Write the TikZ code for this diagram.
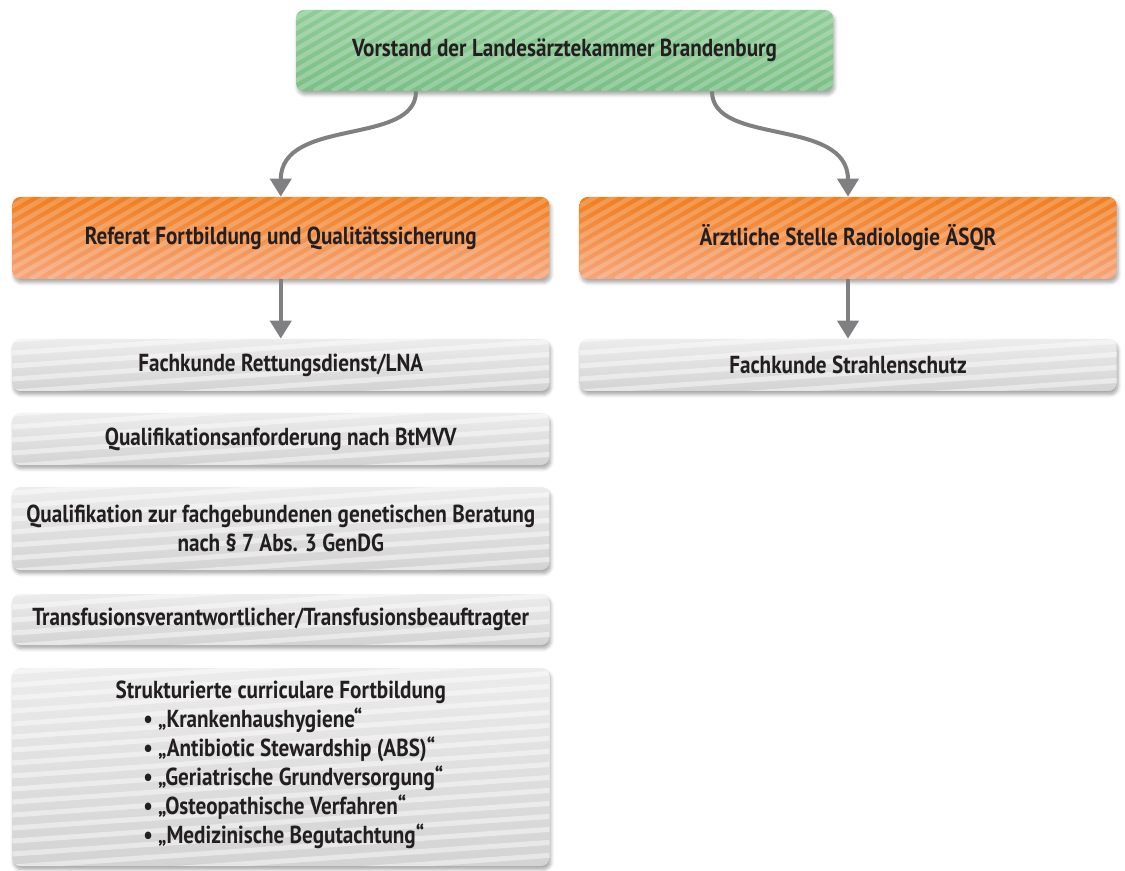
\documentclass[tikz,border=0pt]{standalone}
\usepackage{fontspec}
\setmainfont{PT Sans}[FakeStretch=0.86]
\usetikzlibrary{arrows.meta,shadows.blur}

\definecolor{textdark}{HTML}{231F20}
\definecolor{arrowgrey}{HTML}{808082}
\definecolor{greentop}{HTML}{8FCC97}
\definecolor{greenbot}{HTML}{7CBF87}
\definecolor{orangetop}{HTML}{F07F1F}
\definecolor{orangebot}{HTML}{F6A57A}
\definecolor{greytop}{HTML}{ECECEC}
\definecolor{greybot}{HTML}{D3D3D3}

\begin{document}
\begin{tikzpicture}[
    box/.style={rectangle, rounded corners=0.16cm, minimum width=10.74cm, inner sep=0pt, align=center,
      text=textdark, font=\bfseries\fontsize{14}{16.5}\selectfont,
      blur shadow={shadow xshift=0.03cm, shadow yshift=-0.07cm, shadow blur steps=6, shadow opacity=35}},
    slantstripes/.style={path picture={
      \foreach \k in {-9,...,32}
        \draw[#1, line width=0.09cm] ([xshift=\k*0.36cm]path picture bounding box.south west) -- ++(30:3.6cm);}},
    flatstripes/.style={path picture={
      \foreach \k in {-4,...,18}
        \draw[white, opacity=0.45, line width=0.1cm] ([yshift=\k*0.26cm-0.8cm]path picture bounding box.south west) -- ++(4:11.5cm);}},
    boardbox/.style={box, minimum height=1.62cm, top color=greentop, bottom color=greenbot, slantstripes={white, opacity=0.22}},
    unitbox/.style={box, minimum height=1.64cm, top color=orangetop, bottom color=orangebot, slantstripes={white, opacity=0.2}},
    taskbox/.style={box, top color=greytop, bottom color=greybot, flatstripes},
    conn/.style={draw=arrowgrey, line width=0.08cm, -{Triangle[width=0.42cm,length=0.36cm]}}
  ]
  \useasboundingbox (0,0) rectangle (22.5,-17.42);

  \node[boardbox] (LAEKB) at (11.29,-1.01) {Vorstand der Landesärztekammer Brandenburg};

  \node[unitbox] (REF) at (5.615,-4.76) {Referat Fortbildung und Qualitätssicherung};
  \node[unitbox] (AESQR) at (16.96,-4.76) {Ärztliche Stelle Radiologie ÄSQR};

  \node[taskbox, minimum height=1.04cm] (RD) at (5.615,-7.30) {Fachkunde Rettungsdienst/LNA};
  \node[taskbox, minimum height=1.04cm] (SRS) at (16.96,-7.30) {Fachkunde Strahlenschutz};
  \node[taskbox, minimum height=1.04cm] (BTM) at (5.615,-8.78) {Qualifikationsanforderung nach BtMVV};
  \node[taskbox, minimum height=1.66cm] (GEN) at (5.615,-10.57) {Qualifikation zur fachgebundenen genetischen Beratung\\nach § 7 Abs. 3 GenDG};
  \node[taskbox, minimum height=1.02cm] (TRANS) at (5.615,-12.39) {Transfusionsverantwortlicher/Transfusionsbeauftragter};
  \node[taskbox, minimum height=3.96cm] (SCF) at (5.615,-15.34) {Strukturierte curriculare Fortbildung\\
    \hspace*{0.5cm}\begin{tabular}[t]{@{}l@{}}
      • „Krankenhaushygiene“\\
      • „Antibiotic Stewardship (ABS)“\\
      • „Geriatrische Grundversorgung“\\
      • „Osteopathische Verfahren“\\
      • „Medizinische Begutachtung“
    \end{tabular}};

  % connectors
  \draw[conn] ([xshift=-2.97cm]LAEKB.south) .. controls +(0,-1.1) and +(0,1.6) .. (REF.north);
  \draw[conn] ([xshift=2.95cm]LAEKB.south) .. controls +(0,-1.1) and +(0,1.6) .. (AESQR.north);
  \draw[conn] (REF) -- (RD);
  \draw[conn] (AESQR) -- (SRS);
\end{tikzpicture}
\end{document}
